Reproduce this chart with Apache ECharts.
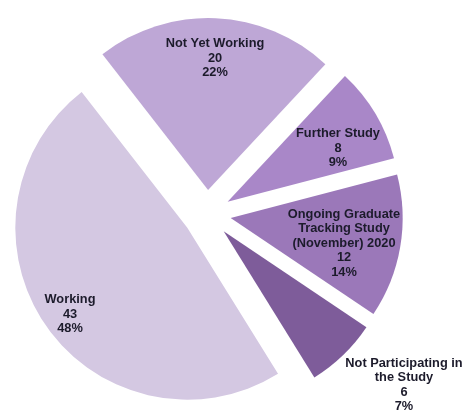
<!DOCTYPE html>
<html>
<head>
<meta charset="utf-8">
<script src="https://cdn.jsdelivr.net/npm/echarts@6/dist/echarts.min.js"></script>
<style>
  html, body { margin: 0; padding: 0; background: #ffffff; }
  #chart { width: 464px; height: 413px; }
</style>
</head>
<body>
<div id="chart"></div>
<script>
// Graduate outcome categories and head counts
const categories = [
  'Not Yet Working',
  'Further Study',
  'Ongoing Graduate\nTracking Study\n(November) 2020',
  'Not Participating in\nthe Study',
  'Working'
];
const counts = [20, 8, 12, 6, 43];

// Slice fills, light to dark purple
const sliceColors = ['#bea7d6', '#a987c8', '#9b78b9', '#7e5c9a', '#d4c8e2'];

// Centres of each label block (px)
const labelCentres = [[215, 58], [338, 148], [344, 243], [404, 385], [70, 314]];

// Whole-number shares that still add up to 100 (largest remainder)
function wholePercents(values) {
  const total = values.reduce(function (a, b) { return a + b; }, 0);
  const raw = values.map(function (v) { return v / total * 100; });
  const out = raw.map(Math.floor);
  let left = 100 - out.reduce(function (a, b) { return a + b; }, 0);
  const order = raw.map(function (r, i) { return [r - Math.floor(r), i]; })
    .sort(function (a, b) { return b[0] - a[0]; });
  for (let k = 0; k < left; k++) out[order[k][1]] += 1;
  return out;
}
const shares = wholePercents(counts);

const chart = echarts.init(document.getElementById('chart'), null, { renderer: 'canvas' });

chart.setOption({
  animation: false,
  backgroundColor: '#ffffff',
  graphic: categories.map(function (name, i) {
    return {
      type: 'text',
      x: labelCentres[i][0],
      y: labelCentres[i][1],
      z: 100,
      silent: true,
      style: {
        text: name + '\n' + counts[i] + '\n' + shares[i] + '%',
        fontFamily: '"Liberation Sans", Arial, sans-serif',
        fontWeight: 'bold',
        fontSize: 12.8,
        lineHeight: 14.5,
        fill: '#1c1b2b',
        align: 'center',
        verticalAlign: 'middle'
      }
    };
  }),
  series: [{
    type: 'pie',
    center: [207, 214],
    radius: 172,
    startAngle: 127.9,
    clockwise: true,
    selectedMode: 'multiple',
    selectedOffset: 24,
    emphasis: { disabled: true },
    label: { show: false },
    labelLine: { show: false },
    itemStyle: { borderWidth: 0 },
    data: categories.map(function (name, i) {
      return {
        name: name,
        value: counts[i],
        selected: true,
        itemStyle: { color: sliceColors[i] }
      };
    })
  }]
});
</script>
</body>
</html>
